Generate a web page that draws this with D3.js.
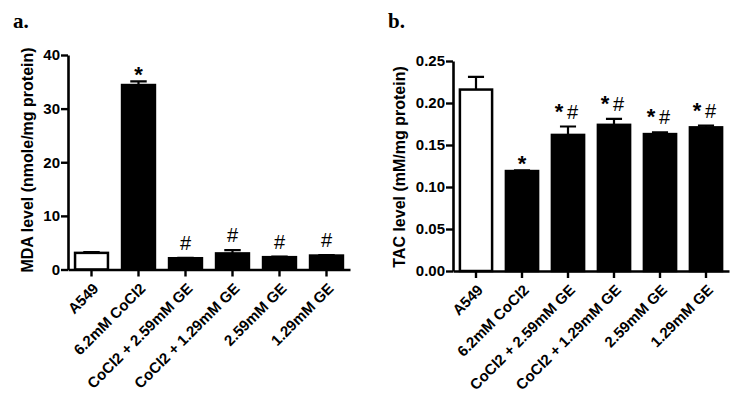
<!DOCTYPE html>
<html>
<head>
<meta charset="utf-8">
<script src="https://cdn.jsdelivr.net/npm/d3@7"></script>
<style>
  body { margin: 0; background: #fff; }
  svg { display: block; }
</style>
</head>
<body>
<script>
// groups shared by both panels
const categories = ["A549", "6.2mM CoCl2", "CoCl2 + 2.59mM GE", "CoCl2 + 1.29mM GE", "2.59mM GE", "1.29mM GE"];

// panel a: MDA
const mdaMean = [3.1, 34.4, 2.1, 3.0, 2.3, 2.6];
const mdaErr = [0.15, 0.7, 0.05, 0.6, 0.1, 0.1];
const mdaStar = [false, true, false, false, false, false];
const mdaHash = [false, false, true, true, true, true];
const mdaTicks = [0, 10, 20, 30, 40];

// panel b: TAC
const tacMean = [0.216, 0.119, 0.162, 0.174, 0.163, 0.171];
const tacErr = [0.015, 0.0008, 0.010, 0.007, 0.002, 0.002];
const tacStar = [false, true, true, true, true, true];
const tacHash = [false, false, true, true, true, true];
const tacTicks = [0, 0.05, 0.10, 0.15, 0.20, 0.25];

const SANS = "'Liberation Sans', Arial, sans-serif";

var svg = d3.select("body").append("svg")
  .attr("width", 742)
  .attr("height", 405)
  .style("font-family", SANS);

function panel(opt) {
  var g = svg.append("g");
  var rows = categories.map((c, i) => ({
    cat: c, mean: opt.mean[i], err: opt.err[i], star: opt.star[i], hash: opt.hash[i], i: i
  }));

  var x = d3.scaleBand().domain(categories).range([opt.x0, opt.x1])
    .paddingInner(0.3).paddingOuter(0.15);
  var y = d3.scaleLinear().domain(opt.domain).range([opt.y0, opt.y1]);

  // bars
  g.selectAll("rect.bar").data(rows).join("rect")
    .attr("class", "bar")
    .attr("x", d => x(d.cat))
    .attr("width", x.bandwidth())
    .attr("y", d => y(d.mean))
    .attr("height", d => y(0) - y(d.mean))
    .attr("fill", d => d.i == 0 ? "#fff" : "#000")
    .attr("stroke", "#000")
    .attr("stroke-width", 2.5);

  // error bars (upper only)
  var cap = x.bandwidth() * 0.25;
  g.selectAll("path.err").data(rows).join("path")
    .attr("class", "err")
    .attr("d", d => {
      var cx = x(d.cat) + x.bandwidth() / 2;
      var t = y(d.mean + d.err);
      return "M" + cx + "," + y(d.mean) + "V" + t + "M" + (cx - cap) + "," + t + "H" + (cx + cap);
    })
    .attr("fill", "none")
    .attr("stroke", "#000")
    .attr("stroke-width", 2.2);

  // significance marks
  rows.forEach(d => {
    var cx = x(d.cat) + x.bandwidth() / 2;
    var t = y(d.mean + d.err);
    if (d.star && !d.hash) {
      g.append("text").attr("x", cx).attr("y", t + 1)
        .attr("text-anchor", "middle").style("font-size", "22px").style("font-weight", "bold")
        .text("*");
    } else if (d.star && d.hash) {
      g.append("text").attr("x", cx - 9).attr("y", t - 8)
        .attr("text-anchor", "middle").style("font-size", "22px").style("font-weight", "bold")
        .text("*");
      g.append("text").attr("x", cx + 4.5).attr("y", t - 8)
        .attr("text-anchor", "middle").style("font-size", "20px")
        .text("#");
    } else if (d.hash) {
      g.append("text").attr("x", cx).attr("y", t - 8)
        .attr("text-anchor", "middle").style("font-size", "20px")
        .text("#");
    }
  });

  // y axis
  var ya = g.append("g")
    .attr("transform", "translate(" + opt.x0 + ",0)")
    .call(d3.axisLeft(y).tickValues(opt.ticks).tickSize(7).tickSizeOuter(0).tickPadding(1)
      .tickFormat(opt.fmt));
  ya.select(".domain").attr("stroke-width", 2.6);
  ya.selectAll(".tick line").attr("stroke-width", 2.4);
  ya.selectAll(".tick text")
    .style("font-family", SANS)
    .style("font-size", "15px").style("font-weight", "bold").attr("fill", "#000");

  // x axis
  var xa = g.append("g")
    .attr("transform", "translate(0," + opt.y0 + ")")
    .call(d3.axisBottom(x).tickSize(7).tickSizeOuter(0));
  xa.select(".domain").attr("stroke-width", 2.6);
  xa.selectAll(".tick line").attr("stroke-width", 2.4);
  xa.selectAll(".tick text")
    .style("font-family", SANS)
    .style("font-size", "15px").style("font-weight", "bold").attr("fill", "#000")
    .attr("text-anchor", "end")
    .attr("dy", null)
    .attr("y", null)
    .attr("transform", "translate(8,20) rotate(-45)");

  // y title
  g.append("text")
    .attr("transform", "translate(" + opt.titleX + "," + opt.titleY + ") rotate(-90)")
    .attr("text-anchor", "middle")
    .style("font-size", "16px").style("font-weight", "bold")
    .text(opt.title);

  // panel letter
  g.append("text")
    .attr("x", opt.letterX).attr("y", 28)
    .style("font-family", "'Liberation Serif', 'Times New Roman', serif")
    .style("font-size", "21px").style("font-weight", "bold")
    .text(opt.letter);
}

panel({
  mean: mdaMean, err: mdaErr, star: mdaStar, hash: mdaHash, ticks: mdaTicks,
  domain: [0, 40], fmt: d3.format("d"),
  x0: 68, x1: 350, y0: 269.5, y1: 55,
  title: "MDA level (nmole/mg protein)", titleX: 33, titleY: 160,
  letter: "a.", letterX: 13
});

panel({
  mean: tacMean, err: tacErr, star: tacStar, hash: tacHash, ticks: tacTicks,
  domain: [0, 0.25], fmt: d3.format(".2f"),
  x0: 453, x1: 729, y0: 271, y1: 61,
  title: "TAC level (mM/mg protein)", titleX: 405, titleY: 167,
  letter: "b.", letterX: 388
});
</script>
</body>
</html>
